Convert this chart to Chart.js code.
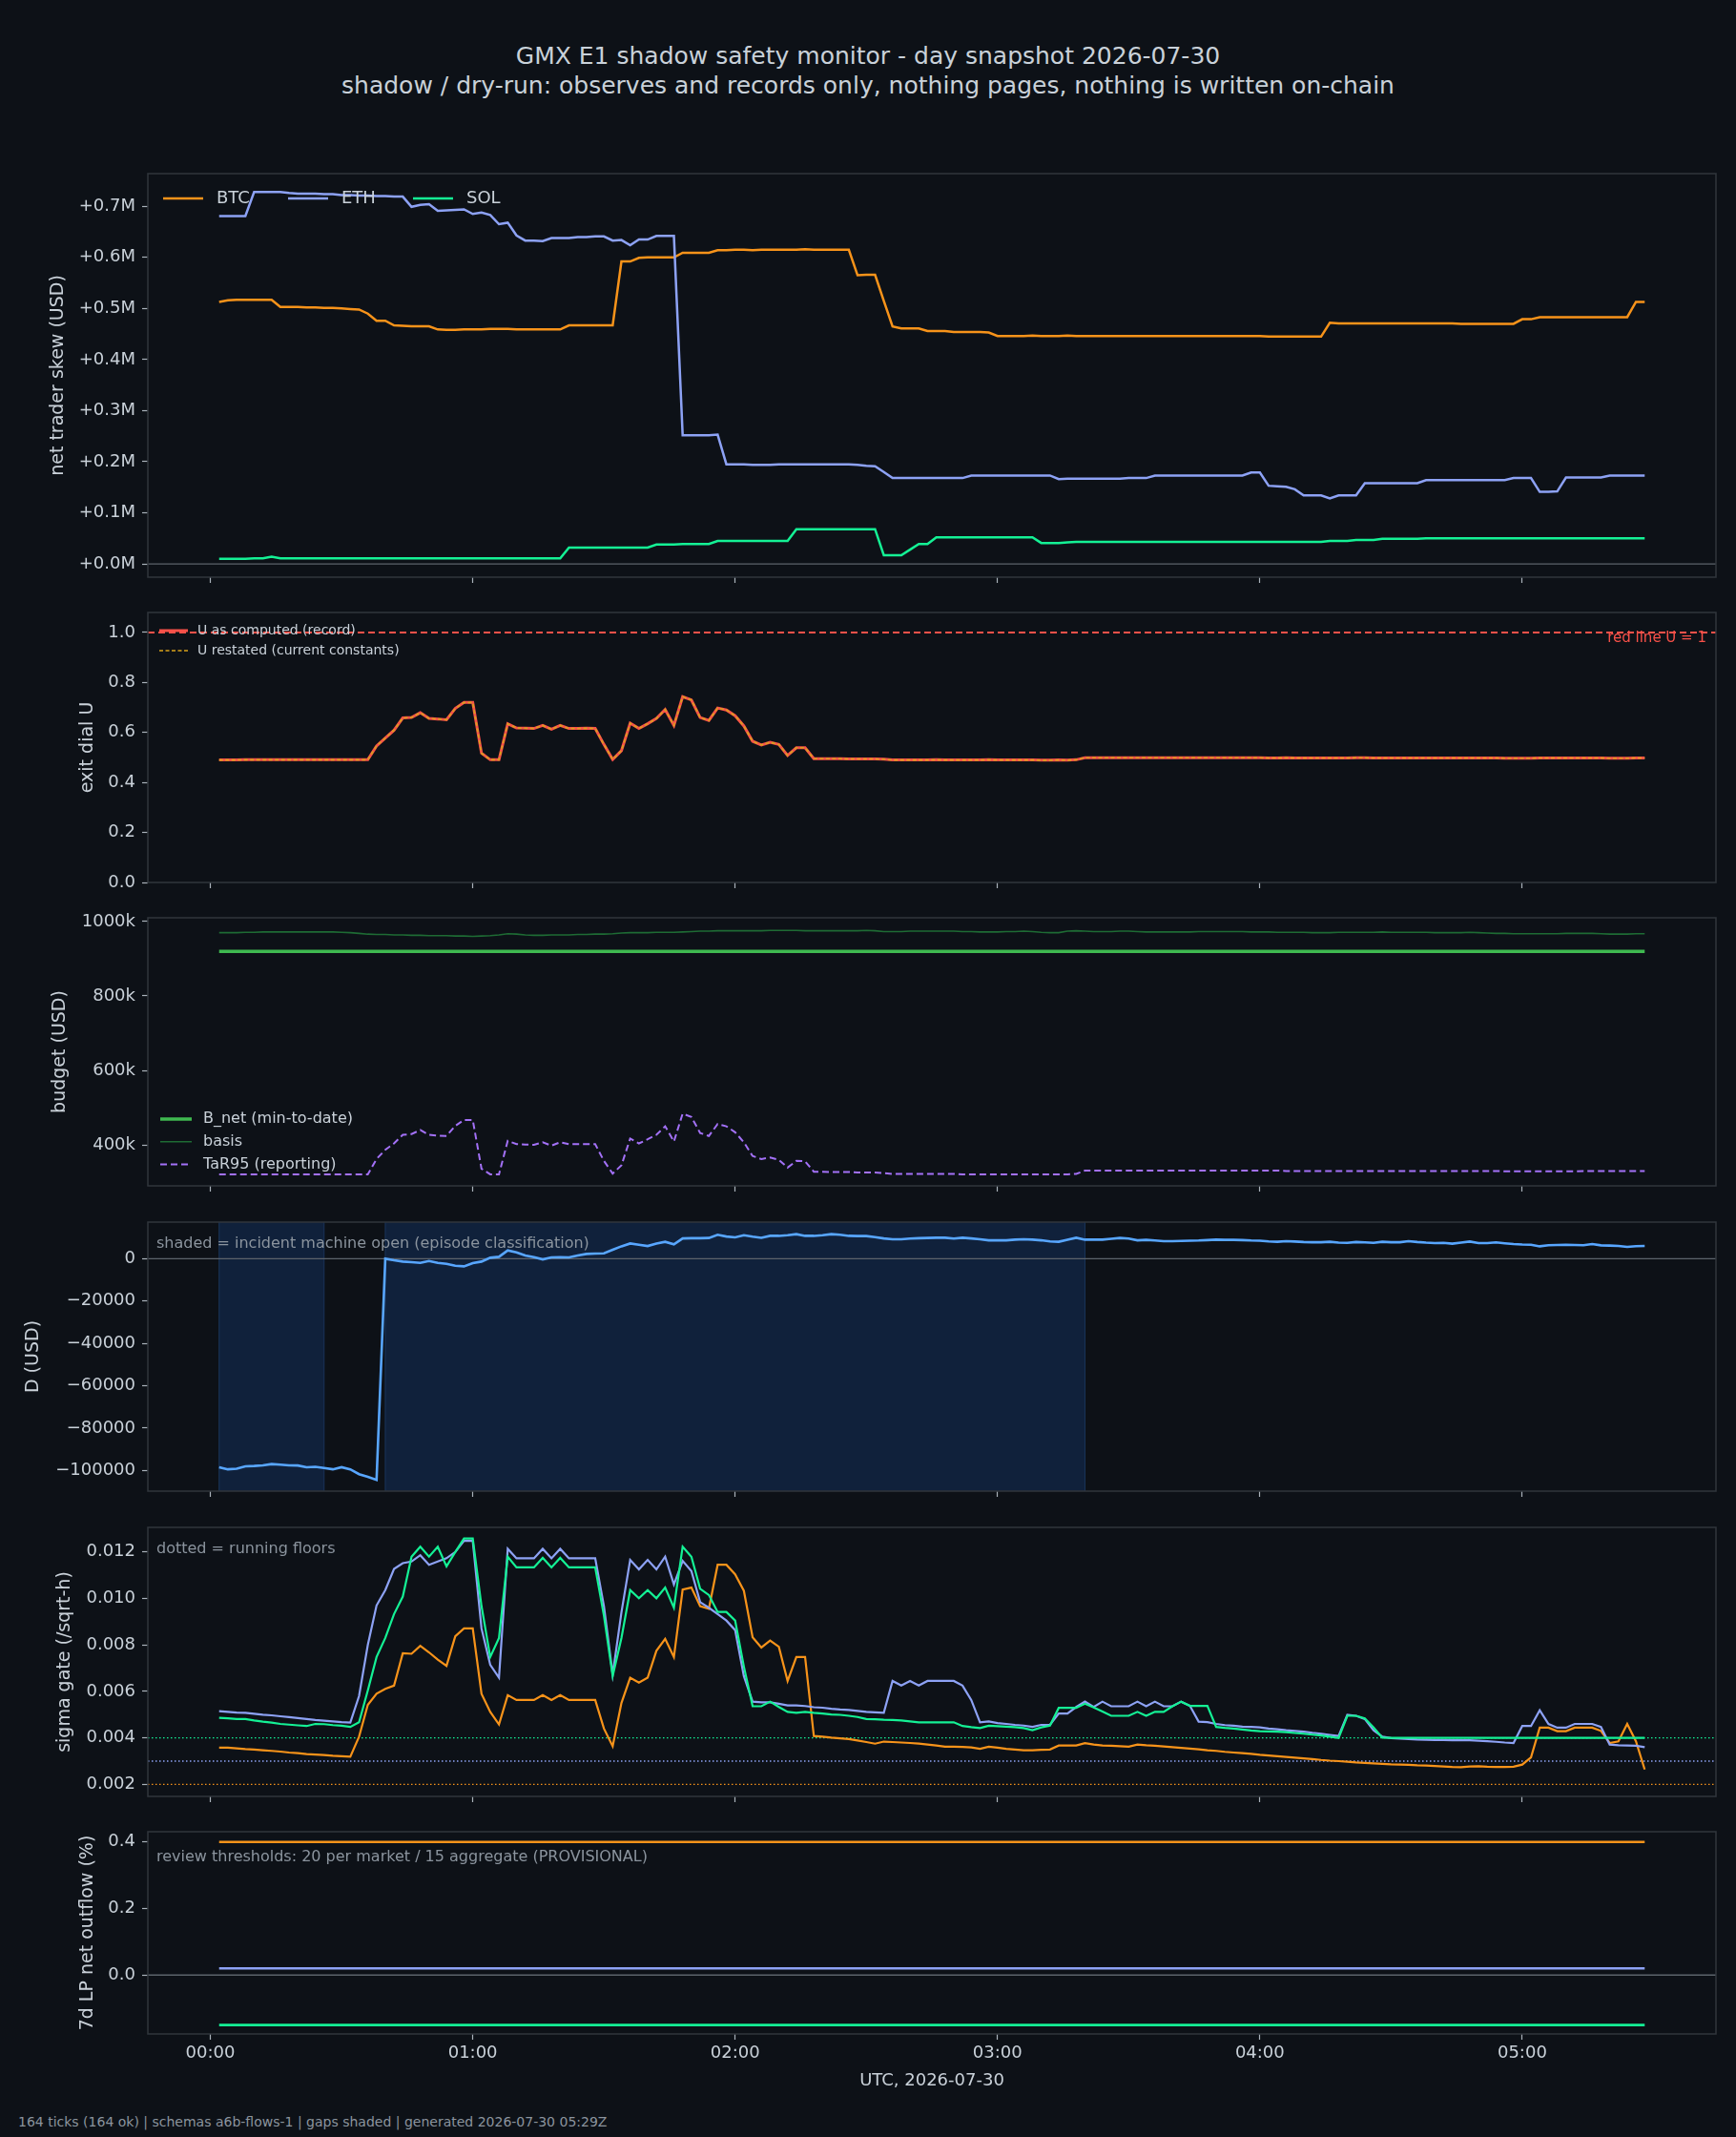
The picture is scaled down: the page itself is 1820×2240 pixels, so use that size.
<!DOCTYPE html>
<html><head><meta charset="utf-8">
<script src="https://cdn.jsdelivr.net/npm/chart.js@4.4.1/dist/chart.umd.min.js"></script>
<style>
html,body{margin:0;padding:0;background:#0d1117;}
body{width:1820px;height:2240px;position:relative;overflow:hidden;font-family:"DejaVu Sans",sans-serif;}
#title{position:absolute;left:0;top:43px;width:1820px;text-align:center;color:#c9d1d9;font-size:25px;line-height:31px;white-space:nowrap;}
#footer{position:absolute;left:19px;top:2215px;color:#8b949e;font-size:14px;line-height:18px;white-space:nowrap;}
.panel{position:absolute;left:0;width:1820px;}
canvas{display:block;}
</style></head><body>
<div id="title">GMX E1 shadow safety monitor - day snapshot 2026-07-30<br>shadow / dry-run: observes and records only, nothing pages, nothing is written on-chain</div>
<div id="footer">164 ticks (164 ok) | schemas a6b-flows-1 | gaps shaded | generated 2026-07-30 05:29Z</div>
<script>
// ---------- time axis (minutes after 00:00 UTC) ----------
const FIRST_TICK_MIN = 2, TICK_STEP_MIN = 2, TICK_COUNT = 164;
const hourTicks = [0, 60, 120, 180, 240, 300];
const hourLabels = ['00:00', '01:00', '02:00', '03:00', '04:00', '05:00'];

// ---------- panel 1: net trader skew (USD millions) ----------
const btcSkewM = [
0.513,0.516,0.517,0.517,0.517,0.517,0.517,0.503,0.503,0.503,
0.502,0.502,0.501,0.501,0.500,0.499,0.498,0.490,0.476,0.476,
0.467,0.466,0.465,0.465,0.465,0.459,0.458,0.458,0.459,0.459,
0.459,0.460,0.460,0.460,0.459,0.459,0.459,0.459,0.459,0.459,
0.467,0.467,0.467,0.467,0.467,0.467,0.592,0.592,0.599,0.600,
0.600,0.600,0.600,0.609,0.609,0.609,0.609,0.614,0.614,0.615,
0.615,0.614,0.615,0.615,0.615,0.615,0.615,0.616,0.615,0.615,
0.615,0.615,0.615,0.565,0.566,0.566,0.515,0.465,0.461,0.461,
0.461,0.456,0.456,0.456,0.454,0.454,0.454,0.454,0.453,0.446,
0.446,0.446,0.446,0.447,0.446,0.446,0.446,0.447,0.446,0.446,
0.446,0.446,0.446,0.446,0.446,0.446,0.446,0.446,0.446,0.446,
0.446,0.446,0.446,0.446,0.446,0.446,0.446,0.446,0.446,0.446,
0.445,0.445,0.445,0.445,0.445,0.445,0.445,0.472,0.471,0.471,
0.471,0.471,0.471,0.471,0.471,0.471,0.471,0.471,0.471,0.471,
0.471,0.471,0.470,0.470,0.470,0.470,0.470,0.470,0.470,0.479,
0.479,0.483,0.483,0.483,0.483,0.483,0.483,0.483,0.483,0.483,
0.483,0.483,0.513,0.513];
const ethSkewM = [
0.681,0.681,0.681,0.681,0.728,0.728,0.728,0.728,0.726,0.725,
0.725,0.725,0.724,0.724,0.722,0.722,0.721,0.721,0.720,0.720,
0.719,0.719,0.699,0.703,0.704,0.691,0.692,0.693,0.694,0.685,
0.688,0.683,0.665,0.668,0.643,0.633,0.633,0.632,0.638,0.638,
0.638,0.640,0.640,0.641,0.641,0.633,0.634,0.624,0.635,0.635,
0.642,0.642,0.642,0.252,0.252,0.252,0.252,0.253,0.195,0.195,
0.195,0.194,0.194,0.194,0.195,0.195,0.195,0.195,0.195,0.195,
0.195,0.195,0.195,0.194,0.192,0.191,0.180,0.168,0.168,0.168,
0.168,0.168,0.168,0.168,0.168,0.168,0.173,0.173,0.173,0.173,
0.173,0.173,0.173,0.173,0.173,0.173,0.166,0.167,0.167,0.167,
0.167,0.167,0.167,0.167,0.168,0.168,0.168,0.173,0.173,0.173,
0.173,0.173,0.173,0.173,0.173,0.173,0.173,0.173,0.179,0.179,
0.153,0.152,0.151,0.146,0.134,0.134,0.134,0.128,0.134,0.134,
0.134,0.158,0.158,0.158,0.158,0.158,0.158,0.158,0.164,0.164,
0.164,0.164,0.164,0.164,0.164,0.164,0.164,0.164,0.168,0.168,
0.168,0.141,0.141,0.142,0.169,0.169,0.169,0.169,0.169,0.173,
0.173,0.173,0.173,0.173];
const solSkewM = [
0.010,0.010,0.010,0.010,0.011,0.011,0.014,0.011,0.011,0.011,
0.011,0.011,0.011,0.011,0.011,0.011,0.011,0.011,0.011,0.011,
0.011,0.011,0.011,0.011,0.011,0.011,0.011,0.011,0.011,0.011,
0.011,0.011,0.011,0.011,0.011,0.011,0.011,0.011,0.011,0.011,
0.032,0.032,0.032,0.032,0.032,0.032,0.032,0.032,0.032,0.032,
0.038,0.038,0.038,0.039,0.039,0.039,0.039,0.045,0.045,0.045,
0.045,0.045,0.045,0.045,0.045,0.045,0.068,0.068,0.068,0.068,
0.068,0.068,0.068,0.068,0.068,0.068,0.017,0.017,0.017,0.028,
0.039,0.039,0.052,0.052,0.052,0.052,0.052,0.052,0.052,0.052,
0.052,0.052,0.052,0.052,0.041,0.041,0.041,0.042,0.043,0.043,
0.043,0.043,0.043,0.043,0.043,0.043,0.043,0.043,0.043,0.043,
0.043,0.043,0.043,0.043,0.043,0.043,0.043,0.043,0.043,0.043,
0.043,0.043,0.043,0.043,0.043,0.043,0.043,0.045,0.045,0.045,
0.047,0.047,0.047,0.049,0.049,0.049,0.049,0.049,0.050,0.050,
0.050,0.050,0.050,0.050,0.050,0.050,0.050,0.050,0.050,0.050,
0.050,0.050,0.050,0.050,0.050,0.050,0.050,0.050,0.050,0.050,
0.050,0.050,0.050,0.050];
const skewTicksM = [0, 0.1, 0.2, 0.3, 0.4, 0.5, 0.6, 0.7];

// ---------- panel 2: exit dial U (record and restatement coincide) ----------
const uRecord = [
0.490,0.490,0.490,0.491,0.491,0.491,0.491,0.491,0.491,0.491,
0.491,0.491,0.491,0.491,0.491,0.491,0.491,0.491,0.546,0.578,
0.609,0.658,0.660,0.679,0.656,0.654,0.651,0.696,0.720,0.720,
0.517,0.491,0.491,0.635,0.618,0.617,0.616,0.628,0.613,0.628,
0.616,0.616,0.617,0.616,0.552,0.492,0.527,0.637,0.616,0.635,
0.656,0.692,0.628,0.743,0.730,0.660,0.648,0.698,0.690,0.667,
0.626,0.565,0.550,0.561,0.552,0.508,0.539,0.539,0.495,0.495,
0.495,0.495,0.494,0.494,0.494,0.494,0.493,0.490,0.490,0.490,
0.490,0.490,0.491,0.490,0.490,0.490,0.490,0.490,0.491,0.490,
0.490,0.490,0.490,0.490,0.489,0.489,0.490,0.489,0.491,0.499,
0.499,0.499,0.499,0.499,0.499,0.499,0.499,0.499,0.499,0.499,
0.499,0.499,0.499,0.499,0.499,0.499,0.499,0.499,0.499,0.499,
0.498,0.498,0.499,0.498,0.498,0.498,0.498,0.498,0.498,0.498,
0.499,0.499,0.498,0.498,0.498,0.498,0.498,0.498,0.498,0.498,
0.498,0.498,0.498,0.498,0.498,0.498,0.498,0.497,0.497,0.497,
0.497,0.498,0.498,0.498,0.498,0.498,0.498,0.498,0.498,0.497,
0.497,0.497,0.498,0.498];
const uRestated = uRecord;           // restated series overlays the record exactly
const uRedLine = 1.0;
const uTicks = [0, 0.2, 0.4, 0.6, 0.8, 1.0];

// ---------- panel 3: budget (USD thousands) ----------
const bNetK = 920;
const basisK = [
970,970,970,971,971,972,972,972,972,972,
972,972,972,972,971,970,968,966,965,965,
964,964,963,963,962,962,962,961,961,960,
961,962,964,967,966,964,963,963,964,964,
964,965,965,966,966,967,969,970,970,970,
971,971,971,972,973,974,974,975,975,975,
975,975,975,976,976,976,976,975,975,975,
975,975,975,975,976,975,973,973,973,974,
974,974,974,974,974,973,973,972,972,972,
973,973,974,973,971,970,970,974,975,974,
973,973,973,974,974,973,972,972,972,972,
972,972,973,973,973,973,973,973,972,972,
972,971,971,971,971,970,970,970,971,971,
971,971,971,972,971,971,971,971,971,970,
970,970,970,971,970,969,968,968,967,967,
967,967,967,967,968,968,968,968,967,966,
966,966,967,967];
const tar95K = [
321,321,321,321,321,321,321,321,321,321,
321,321,321,321,321,321,321,321,362,387,
404,427,429,440,427,425,424,451,467,467,
336,321,321,411,402,401,400,407,398,407,
402,402,402,402,357,323,345,417,404,415,
427,450,409,484,475,432,424,456,450,434,
407,370,362,366,360,339,357,356,328,328,
327,327,327,326,326,326,324,322,322,322,
322,322,322,322,322,321,321,321,321,321,
321,321,321,321,321,321,321,321,322,331,
331,331,331,331,331,331,331,331,331,331,
331,331,331,331,331,331,331,331,331,331,
331,331,330,330,330,330,330,330,330,330,
330,330,330,330,330,330,330,330,330,330,
330,330,330,330,330,330,330,329,329,329,
329,329,329,329,329,329,330,330,330,330,
330,330,330,330];
const budgetTicksK = [400, 600, 800, 1000];

// ---------- panel 4: D (USD) ----------
const dUsd = [
-98500,-99500,-99200,-98100,-97900,-97600,-97000,-97300,-97600,-97700,
-98500,-98300,-98900,-99500,-98500,-99500,-101800,-103000,-104500,0,
-750,-1350,-1650,-1950,-1050,-1950,-2400,-3300,-3600,-2100,
-1350,450,900,3900,3000,1500,750,-300,600,750,
600,1500,2250,2400,2550,4200,5850,7200,6600,6000,
7200,8000,6800,9600,9700,9700,9800,11300,10500,10100,
11100,10400,9900,10800,10800,11100,11600,10800,10800,11100,
11600,11300,10800,10700,10700,10200,9600,9200,9200,9500,
9700,9800,9900,9900,9500,9900,9600,9200,8700,8700,
8700,9000,9200,9000,8700,8200,8000,9000,9900,9000,
9000,9000,9400,9800,9500,8700,8900,8600,8300,8300,
8400,8500,8600,8800,9000,8900,8900,8800,8600,8500,
8200,8000,8300,8100,7900,7800,7800,8000,7600,7500,
7900,7700,7500,8000,7800,7800,8300,7900,7600,7400,
7500,7100,7600,8100,7400,7400,7700,7300,6900,6700,
6600,5850,6400,6500,6600,6500,6400,6900,6300,6200,
6000,5600,5900,6000];
const incidentStartMin = [2, 40];
const incidentEndMin = [26, 200];
const dTicks = [-100000, -80000, -60000, -40000, -20000, 0];

// ---------- panel 5: sigma gate (/sqrt-h) ----------
const sigmaBtc = [
0.00358,0.00358,0.00355,0.00352,0.00350,0.00347,0.00344,0.00341,0.00337,0.00334,
0.00330,0.00328,0.00326,0.00323,0.00321,0.00319,0.00405,0.00542,0.00590,0.00611,
0.00625,0.00764,0.00762,0.00796,0.00768,0.00737,0.00710,0.00837,0.00871,0.00871,
0.00590,0.00512,0.00458,0.00584,0.00563,0.00563,0.00563,0.00584,0.00563,0.00584,
0.00563,0.00563,0.00563,0.00563,0.00440,0.00364,0.00550,0.00659,0.00638,0.00659,
0.00775,0.00826,0.00748,0.01038,0.01047,0.00967,0.00956,0.01145,0.01145,0.01104,
0.01033,0.00833,0.00789,0.00819,0.00792,0.00645,0.00748,0.00748,0.00408,0.00405,
0.00401,0.00398,0.00395,0.00389,0.00382,0.00375,0.00384,0.00382,0.00380,0.00378,
0.00375,0.00371,0.00367,0.00362,0.00362,0.00361,0.00359,0.00353,0.00362,0.00358,
0.00353,0.00350,0.00347,0.00347,0.00349,0.00350,0.00367,0.00367,0.00367,0.00377,
0.00371,0.00367,0.00366,0.00364,0.00362,0.00371,0.00368,0.00366,0.00363,0.00360,
0.00357,0.00354,0.00351,0.00347,0.00344,0.00340,0.00337,0.00334,0.00331,0.00327,
0.00324,0.00321,0.00318,0.00315,0.00312,0.00309,0.00305,0.00302,0.00300,0.00297,
0.00294,0.00292,0.00290,0.00288,0.00286,0.00285,0.00284,0.00282,0.00281,0.00279,
0.00277,0.00275,0.00274,0.00277,0.00278,0.00276,0.00275,0.00275,0.00276,0.00285,
0.00316,0.00444,0.00444,0.00429,0.00429,0.00444,0.00444,0.00444,0.00430,0.00378,
0.00385,0.00460,0.00385,0.00264];
const sigmaEth = [
0.00515,0.00512,0.00509,0.00508,0.00504,0.00500,0.00497,0.00493,0.00489,0.00485,
0.00481,0.00477,0.00474,0.00471,0.00468,0.00466,0.00580,0.00800,0.00970,0.01036,
0.01127,0.01152,0.01159,0.01186,0.01145,0.01159,0.01173,0.01200,0.01248,0.01248,
0.00871,0.00714,0.00659,0.01214,0.01173,0.01173,0.01173,0.01214,0.01173,0.01214,
0.01173,0.01173,0.01173,0.01173,0.00967,0.00673,0.00940,0.01166,0.01125,0.01166,
0.01125,0.01180,0.01060,0.01162,0.01118,0.00984,0.00960,0.00933,0.00905,0.00864,
0.00666,0.00556,0.00553,0.00553,0.00547,0.00540,0.00540,0.00537,0.00532,0.00530,
0.00525,0.00522,0.00520,0.00516,0.00512,0.00510,0.00508,0.00645,0.00625,0.00645,
0.00625,0.00645,0.00645,0.00645,0.00645,0.00625,0.00563,0.00467,0.00471,0.00464,
0.00460,0.00456,0.00453,0.00447,0.00456,0.00456,0.00505,0.00505,0.00533,0.00556,
0.00533,0.00556,0.00536,0.00536,0.00536,0.00556,0.00536,0.00556,0.00536,0.00536,
0.00556,0.00538,0.00470,0.00468,0.00460,0.00455,0.00452,0.00448,0.00447,0.00445,
0.00440,0.00437,0.00433,0.00430,0.00427,0.00422,0.00418,0.00413,0.00408,0.00499,
0.00495,0.00481,0.00433,0.00405,0.00399,0.00397,0.00395,0.00393,0.00392,0.00391,
0.00391,0.00390,0.00390,0.00390,0.00388,0.00386,0.00383,0.00380,0.00378,0.00451,
0.00451,0.00519,0.00460,0.00444,0.00444,0.00460,0.00460,0.00460,0.00447,0.00371,
0.00368,0.00367,0.00366,0.00360];
const sigmaSol = [
0.00486,0.00484,0.00481,0.00481,0.00475,0.00470,0.00466,0.00460,0.00457,0.00454,
0.00451,0.00460,0.00459,0.00455,0.00452,0.00447,0.00467,0.00604,0.00748,0.00830,
0.00933,0.01008,0.01180,0.01223,0.01180,0.01223,0.01138,0.01200,0.01258,0.01258,
0.00967,0.00748,0.00830,0.01180,0.01134,0.01134,0.01134,0.01175,0.01134,0.01175,
0.01134,0.01134,0.01134,0.01134,0.00926,0.00666,0.00830,0.01036,0.01001,0.01036,
0.01001,0.01047,0.00960,0.01223,0.01180,0.01042,0.01015,0.00942,0.00942,0.00905,
0.00707,0.00536,0.00536,0.00556,0.00533,0.00512,0.00508,0.00512,0.00508,0.00505,
0.00501,0.00499,0.00495,0.00490,0.00481,0.00480,0.00478,0.00477,0.00475,0.00471,
0.00467,0.00467,0.00467,0.00467,0.00467,0.00451,0.00446,0.00442,0.00452,0.00450,
0.00448,0.00446,0.00442,0.00433,0.00445,0.00453,0.00529,0.00529,0.00529,0.00547,
0.00531,0.00513,0.00495,0.00495,0.00495,0.00512,0.00495,0.00512,0.00512,0.00536,
0.00556,0.00538,0.00538,0.00538,0.00447,0.00443,0.00440,0.00436,0.00432,0.00429,
0.00428,0.00427,0.00425,0.00421,0.00418,0.00414,0.00410,0.00405,0.00399,0.00495,
0.00495,0.00484,0.00445,0.00401,0.00400,0.00400,0.00400,0.00400,0.00400,0.00400,
0.00400,0.00400,0.00400,0.00400,0.00400,0.00400,0.00400,0.00400,0.00400,0.00400,
0.00400,0.00400,0.00400,0.00400,0.00400,0.00400,0.00400,0.00400,0.00400,0.00400,
0.00400,0.00400,0.00400,0.00400];
const sigmaFloors = [0.002, 0.003, 0.004];   // BTC, ETH, SOL running floors
const sigmaTicks = [0.002, 0.004, 0.006, 0.008, 0.010, 0.012];

// ---------- panel 6: 7d LP net outflow (%) ----------
const lpOutflowPct = [0.40, 0.02, -0.15];    // BTC, ETH, SOL
const lpTicks = [0, 0.2, 0.4];

// ---------- styling ----------
const FONT = '"DejaVu Sans", sans-serif';
const BG = '#0d1117', TEXT = '#c9d1d9', MUTED = '#8b949e', FRAME = '#30363d', TICKMARK = '#aab2bb', ZERO = '#5c636b';
const C_BTC = '#f7931a', C_ETH = '#8da2f5', C_SOL = '#14f195';
const PLOT_LEFT = 155, PLOT_RIGHT = 1799, PAD_TOP = 12;
const X_MIN = -14.3, X_MAX = 344.3;
const YTITLE_SIZE = 19;
const PANELS = [
  {top: 182, bottom: 605}, {top: 642, bottom: 925}, {top: 962, bottom: 1243},
  {top: 1281, bottom: 1563}, {top: 1601, bottom: 1883}, {top: 1920, bottom: 2132}
];
Chart.defaults.font.family = FONT;
Chart.defaults.color = TEXT;

const tickMinute = i => FIRST_TICK_MIN + i * TICK_STEP_MIN;
const LAST_MIN = tickMinute(TICK_COUNT - 1);
const pts = arr => arr.map((v, i) => ({x: tickMinute(i), y: v}));
const fullLine = y => [{x: X_MIN, y}, {x: X_MAX, y}];
const spanLine = y => [{x: FIRST_TICK_MIN, y}, {x: LAST_MIN, y}];
const line = (data, color, width, extra) => Object.assign({data, borderColor: color, backgroundColor: color, borderWidth: width, pointRadius: 0, tension: 0, fill: false}, extra || {});

const framePlugin = {
  id: 'frame',
  afterDraw(chart) {
    const {ctx, chartArea: a} = chart;
    ctx.save(); ctx.strokeStyle = FRAME; ctx.lineWidth = 1.5;
    ctx.strokeRect(a.left, a.top, a.right - a.left, a.bottom - a.top);
    ctx.restore();
  }
};
function legendPlugin(cfg) {
  return {
    id: 'inlineLegend',
    afterDatasetsDraw(chart) {
      const {ctx, chartArea: a} = chart;
      const items = chart.data.datasets.filter(d => d.inLegend);
      ctx.save();
      ctx.font = cfg.size + 'px ' + FONT;
      ctx.textBaseline = 'middle'; ctx.textAlign = 'left';
      items.forEach((d, k) => {
        const x = a.left + cfg.dx + (cfg.horizontal ? k * cfg.step : 0);
        const y = a.top + cfg.dy + (cfg.horizontal ? 0 : k * cfg.step);
        ctx.strokeStyle = d.borderColor; ctx.lineWidth = d.legendWidth || d.borderWidth;
        ctx.setLineDash(d.borderDash || []);
        ctx.beginPath(); ctx.moveTo(x, y); ctx.lineTo(x + cfg.sample, y); ctx.stroke();
        ctx.setLineDash([]);
        ctx.fillStyle = TEXT;
        ctx.fillText(d.label, x + cfg.sample + cfg.gap, y);
      });
      ctx.restore();
    }
  };
}
function notesPlugin(notes) {
  return {
    id: 'notes',
    afterDatasetsDraw(chart) {
      const {ctx, chartArea: a} = chart;
      notes.forEach(n => {
        ctx.save();
        ctx.font = n.size + 'px ' + FONT;
        ctx.fillStyle = n.color; ctx.textBaseline = 'middle';
        ctx.textAlign = n.fromRight ? 'right' : 'left';
        ctx.fillText(n.text, n.fromRight ? a.right - n.dx : a.left + n.dx, a.top + n.dy);
        ctx.restore();
      });
    }
  };
}

function makePanel(idx, cfg) {
  const p = PANELS[idx];
  const xAxisH = cfg.xLabels ? 64 : 12;
  const H = PAD_TOP + (p.bottom - p.top) + xAxisH;
  const div = document.createElement('div');
  div.className = 'panel'; div.style.top = (p.top - PAD_TOP) + 'px'; div.style.height = H + 'px';
  const cv = document.createElement('canvas');
  cv.width = 1820; cv.height = H; cv.style.width = '1820px'; cv.style.height = H + 'px';
  div.appendChild(cv); document.body.appendChild(div);
  const gridOpts = {display: true, drawOnChartArea: false, drawTicks: true, tickLength: 6, tickColor: TICKMARK, tickWidth: 1.2, color: TICKMARK};
  new Chart(cv.getContext('2d'), {
    type: 'line',
    data: {datasets: cfg.datasets},
    options: {
      responsive: false, animation: false, events: [],
      layout: {padding: {top: PAD_TOP, right: 1820 - PLOT_RIGHT, left: 0, bottom: 0}},
      plugins: {legend: {display: false}, tooltip: {enabled: false}},
      scales: {
        x: {
          type: 'linear', min: X_MIN, max: X_MAX,
          afterBuildTicks: ax => { ax.ticks = hourTicks.map(v => ({value: v})); },
          afterFit: ax => { ax.height = xAxisH; ax.paddingLeft = 0; ax.paddingRight = 0; ax.paddingTop = 0; ax.paddingBottom = 0; },
          grid: gridOpts, border: {display: false},
          ticks: {display: !!cfg.xLabels, padding: 4, color: TEXT, font: {size: 18}, maxRotation: 0, autoSkip: false,
                  callback: v => { const k = hourTicks.indexOf(v); return k >= 0 ? hourLabels[k] : ''; }},
          title: cfg.xLabels ? {display: true, text: 'UTC, 2026-07-30', color: TEXT, font: {size: 18}, padding: {top: 0, bottom: 4}} : {display: false}
        },
        y: {
          type: 'linear', min: cfg.yMin, max: cfg.yMax,
          afterBuildTicks: ax => { ax.ticks = cfg.yTicks.map(v => ({value: v})); },
          afterFit: ax => { ax.width = PLOT_LEFT; ax.paddingTop = 0; ax.paddingBottom = 0; ax.paddingLeft = 0; ax.paddingRight = 0; },
          grid: gridOpts, border: {display: false},
          ticks: {padding: 7, color: TEXT, font: {size: 18}, autoSkip: false, callback: cfg.yFmt},
          title: {display: true, text: cfg.yTitle, color: TEXT, font: {size: YTITLE_SIZE}, padding: {top: cfg.yTitleX - YTITLE_SIZE * 0.6, bottom: 0}}
        }
      }
    },
    plugins: [framePlugin, legendPlugin(cfg.legend || {}), notesPlugin(cfg.notes || [])]
  });
}

const fmtMinus = s => s.replace('-', '\u2212');

// Panel 1
makePanel(0, {
  yMin: -0.026, yMax: 0.764, yTicks: skewTicksM, yTitle: 'net trader skew (USD)', yTitleX: 61,
  yFmt: v => '+' + Math.abs(v).toFixed(1) + 'M',
  legend: {horizontal: true, dx: 16, dy: 26, step: 131, sample: 42, gap: 14, size: 18},
  datasets: [
    line(pts(btcSkewM), C_BTC, 2.5, {label: 'BTC', inLegend: true, order: 3}),
    line(pts(ethSkewM), C_ETH, 2.5, {label: 'ETH', inLegend: true, order: 2}),
    line(pts(solSkewM), C_SOL, 2.5, {label: 'SOL', inLegend: true, order: 1}),
    line(fullLine(0), ZERO, 1.3, {order: 10})
  ]
});

// Panel 2
makePanel(1, {
  yMin: 0, yMax: 1.08, yTicks: uTicks, yTitle: 'exit dial U', yTitleX: 92,
  yFmt: v => v.toFixed(1),
  legend: {horizontal: false, dx: 12, dy: 19, step: 21, sample: 30, gap: 10, size: 14},
  notes: [{text: 'red line U = 1', dx: 10, dy: 27, fromRight: true, color: '#f85149', size: 15}],
  datasets: [
    line(pts(uRecord), '#f85149', 3, {label: 'U as computed (record)', inLegend: true, order: 3}),
    line(pts(uRestated), '#d9a21b', 1.6, {label: 'U restated (current constants)', inLegend: true, borderDash: [4, 2.5], order: 2}),
    line(fullLine(uRedLine), '#f85149', 2, {borderDash: [7, 4], order: 4})
  ]
});

// Panel 3
makePanel(2, {
  yMin: 290, yMax: 1010, yTicks: budgetTicksK, yTitle: 'budget (USD)', yTitleX: 63,
  yFmt: v => Math.round(v) + 'k',
  legend: {horizontal: false, dx: 13, dy: 211, step: 23.7, sample: 33, gap: 12, size: 16},
  datasets: [
    line(spanLine(bNetK), '#3fb950', 3.5, {label: 'B_net (min-to-date)', inLegend: true, order: 3}),
    line(pts(basisK), '#1e6b34', 1.6, {label: 'basis', inLegend: true, order: 2}),
    line(pts(tar95K), '#a371f7', 2, {label: 'TaR95 (reporting)', inLegend: true, borderDash: [7, 4], order: 1})
  ]
});

// Panel 4
const D_MIN = -109800, D_MAX = 17300;
const shadeSets = [];
incidentStartMin.forEach((s, k) => {
  const e = incidentEndMin[k];
  shadeSets.push(line([{x: s, y: D_MAX}, {x: e, y: D_MAX}], 'rgba(0,0,0,0)', 0, {fill: 'start', backgroundColor: '#10213b', order: 20}));
  shadeSets.push(line([{x: s, y: D_MIN}, {x: s, y: D_MAX}], '#1a365c', 1, {order: 19}));
  shadeSets.push(line([{x: e, y: D_MIN}, {x: e, y: D_MAX}], '#1a365c', 1, {order: 19}));
});
makePanel(3, {
  yMin: D_MIN, yMax: D_MAX, yTicks: dTicks, yTitle: 'D (USD)', yTitleX: 35,
  yFmt: v => fmtMinus(String(v)),
  notes: [{text: 'shaded = incident machine open (episode classification)', dx: 9, dy: 23, color: MUTED, size: 16}],
  datasets: shadeSets.concat([
    line(fullLine(0), ZERO, 1.3, {order: 5}),
    line(pts(dUsd), '#58a6ff', 2.6, {order: 1})
  ])
});

// Panel 5
makePanel(4, {
  yMin: 0.00148, yMax: 0.01306, yTicks: sigmaTicks, yTitle: 'sigma gate (/sqrt-h)', yTitleX: 68,
  yFmt: v => v.toFixed(3),
  notes: [{text: 'dotted = running floors', dx: 9, dy: 23, color: MUTED, size: 16}],
  datasets: [
    line(pts(sigmaBtc), C_BTC, 2.2, {order: 3}),
    line(pts(sigmaEth), C_ETH, 2.2, {order: 2}),
    line(pts(sigmaSol), C_SOL, 2.2, {order: 1}),
    line(fullLine(sigmaFloors[0]), C_BTC, 1.3, {borderDash: [1.5, 2.5], order: 8}),
    line(fullLine(sigmaFloors[1]), C_ETH, 1.3, {borderDash: [1.5, 2.5], order: 8}),
    line(fullLine(sigmaFloors[2]), C_SOL, 1.3, {borderDash: [1.5, 2.5], order: 8})
  ]
});

// Panel 6
makePanel(5, {
  yMin: -0.177, yMax: 0.4307, yTicks: lpTicks, yTitle: '7d LP net outflow (%)', yTitleX: 92,
  yFmt: v => v.toFixed(1), xLabels: true,
  notes: [{text: 'review thresholds: 20 per market / 15 aggregate (PROVISIONAL)', dx: 9, dy: 27, color: MUTED, size: 16}],
  datasets: [
    line(fullLine(0), ZERO, 1.3, {order: 10}),
    line(spanLine(lpOutflowPct[0]), C_BTC, 2.6, {order: 3}),
    line(spanLine(lpOutflowPct[1]), C_ETH, 2.6, {order: 2}),
    line(spanLine(lpOutflowPct[2]), C_SOL, 2.6, {order: 1})
  ]
});

const lens = {btcSkewM, ethSkewM, solSkewM, uRecord, basisK, tar95K, dUsd, sigmaBtc, sigmaEth, sigmaSol};
const bad = Object.entries(lens).filter(([k, v]) => v.length !== TICK_COUNT).map(([k, v]) => k + '=' + v.length);
if (bad.length) throw new Error('length mismatch: ' + bad.join(', '));
</script>
</body></html>
